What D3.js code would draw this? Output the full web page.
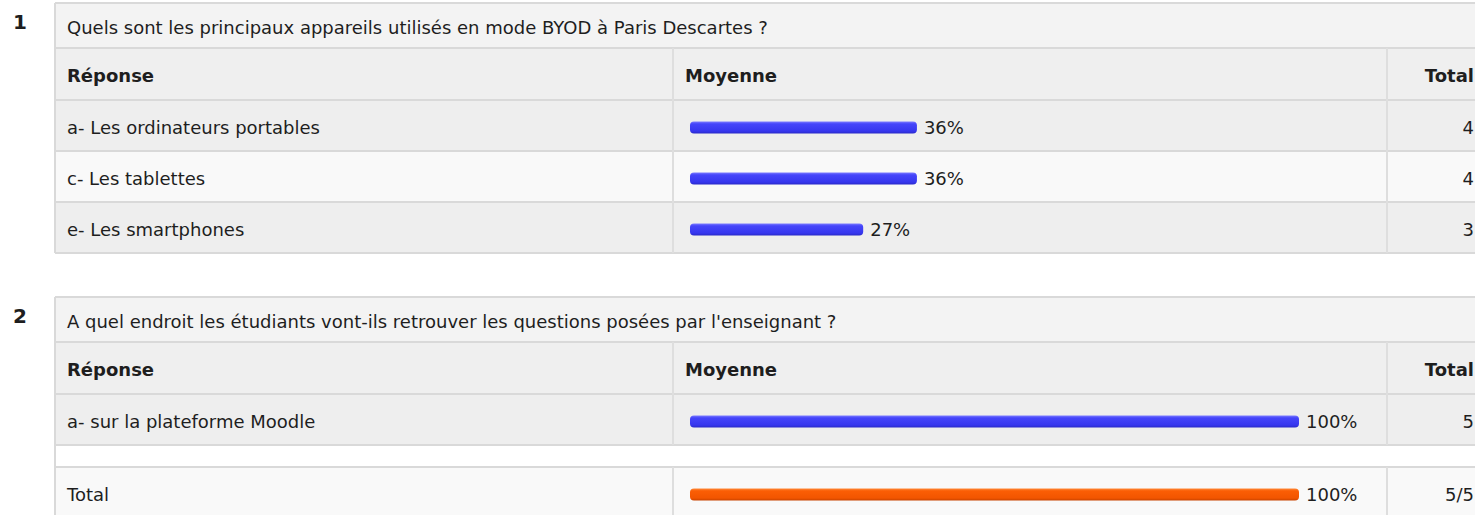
<!DOCTYPE html>
<html><head><meta charset="utf-8">
<script src="https://cdn.jsdelivr.net/npm/d3@7"></script>
<style>html,body{margin:0;padding:0;background:#fff;overflow:hidden}</style>
</head><body>
<svg id="chart" width="1475" height="515"></svg>
<script>
const questionNumbers = ["1", "2"];
const questionTitles = [
  "Quels sont les principaux appareils utilisés en mode BYOD à Paris Descartes ?",
  "A quel endroit les étudiants vont-ils retrouver les questions posées par l'enseignant ?"
];
const headerLabels = ["Réponse", "Moyenne", "Total"];
const q1Answers = ["a- Les ordinateurs portables", "c- Les tablettes", "e- Les smartphones"];
const q1Percent = [36, 36, 27];
const q1Counts = ["4", "4", "3"];
const q2Answers = ["a- sur la plateforme Moodle"];
const q2Percent = [100];
const q2Counts = ["5"];
const totalLabels = ["Total"];
const totalPercent = [100];
const totalCounts = ["5/5"];

const svg = d3.select("#chart");
const FONT = "'DejaVu Sans', Verdana, sans-serif";
const tableX = 55, tableRight = 1495, col1 = 673, col2 = 1387;
const border = "#d9d9d9";

const defs = svg.append("defs");
function grad(id, stops) {
  const g = defs.append("linearGradient").attr("id", id).attr("x1", 0).attr("y1", 0).attr("x2", 0).attr("y2", 1);
  stops.forEach(s => g.append("stop").attr("offset", s[0]).attr("stop-color", s[1]));
}
grad("gBlue", [[0, "#7c7cff"], [0.2, "#4545fa"], [0.8, "#3636ee"], [1, "#2a2ac8"]]);
grad("gOrange", [[0, "#ff8a3a"], [0.2, "#fb5e05"], [0.8, "#f25500"], [1, "#c84300"]]);

const x = d3.scaleLinear().domain([0, 100]).range([0, 597]);
const barStart = 690, barCap = 12, barH = 12;

function text(t, tx, ty, opts = {}) {
  return svg.append("text").attr("x", tx).attr("y", ty).attr("dy", "0.35em")
    .attr("font-family", FONT).attr("font-size", opts.size || 18)
    .attr("font-weight", opts.bold ? "bold" : "normal")
    .attr("text-anchor", opts.anchor || "start")
    .attr("fill", opts.color || "#1e1e1e").text(t);
}
function rowRect(y0, y1, fill) {
  svg.append("rect").attr("x", tableX).attr("y", y0).attr("width", tableRight - tableX).attr("height", y1 - y0).attr("fill", fill);
}
function hline(y) {
  svg.append("line").attr("x1", tableX).attr("x2", tableRight).attr("y1", y).attr("y2", y).attr("stroke", border).attr("stroke-width", 2);
}
function vline(xx, y0, y1, c) {
  svg.append("line").attr("x1", xx).attr("x2", xx).attr("y1", y0).attr("y2", y1).attr("stroke", c || "#dedede").attr("stroke-width", 2);
}
function bar(v, cy, gid, label) {
  svg.append("rect").attr("x", barStart).attr("y", cy - barH / 2 + 2).attr("width", barCap + x(v)).attr("height", barH)
    .attr("rx", 4).attr("ry", 4).attr("fill", `url(#${gid})`);
  text(label, barStart + barCap + x(v) + 7, cy + 2, {});
}

function drawTable(idx, top, answers, pct, counts, withTotal) {
  const titleB = top + 45, headB = titleB + 52;
  rowRect(top, titleB, "#f3f3f3");
  rowRect(titleB, headB, "#efefef");
  let y = headB;
  const rows = answers.map((a, i) => {
    const r = {y0: y, y1: y + 51, a, p: pct[i], c: counts[i], fill: i % 2 === 0 ? "#eeeeee" : "#f9f9f9"};
    y += 51; return r;
  });
  rows.forEach(r => rowRect(r.y0, r.y1, r.fill));
  let bottom = y;
  let totalRow = null;
  if (withTotal) {
    rowRect(y, y + 22, "#ffffff");
    totalRow = {y0: y + 22, y1: y + 22 + 51};
    rowRect(totalRow.y0, totalRow.y1, "#f9f9f9");
    bottom = totalRow.y1 + 5;
  }
  // borders
  hline(top); hline(titleB); hline(headB);
  rows.forEach(r => hline(r.y1));
  if (withTotal) hline(totalRow.y0);
  vline(tableX, top, bottom, border);
  vline(col1, titleB, y); vline(col2, titleB, y);
  if (withTotal) { vline(col1, totalRow.y0, bottom); vline(col2, totalRow.y0, bottom); }

  text(questionNumbers[idx], 13, top + 19, {bold: true, size: 20});
  text(questionTitles[idx], 67, (top + titleB) / 2 + 2, {});
  const hy = (titleB + headB) / 2 + 2;
  text(headerLabels[0], 67, hy, {bold: true});
  text(headerLabels[1], 685, hy, {bold: true});
  text(headerLabels[2], 1474, hy, {bold: true, anchor: "end"});
  rows.forEach(r => {
    const cy = (r.y0 + r.y1) / 2;
    text(r.a, 67, cy + 2, {});
    bar(r.p, cy, "gBlue", r.p + "%");
    text(r.c, 1474, cy + 2, {anchor: "end"});
  });
  if (withTotal) {
    const cy = (totalRow.y0 + totalRow.y1) / 2;
    text(totalLabels[0], 67, cy + 2, {});
    bar(totalPercent[0], cy, "gOrange", totalPercent[0] + "%");
    text(totalCounts[0], 1474, cy + 2, {anchor: "end"});
  }
}

drawTable(0, 3, q1Answers, q1Percent, q1Counts, false);
drawTable(1, 297, q2Answers, q2Percent, q2Counts, true);
</script>
</body></html>
